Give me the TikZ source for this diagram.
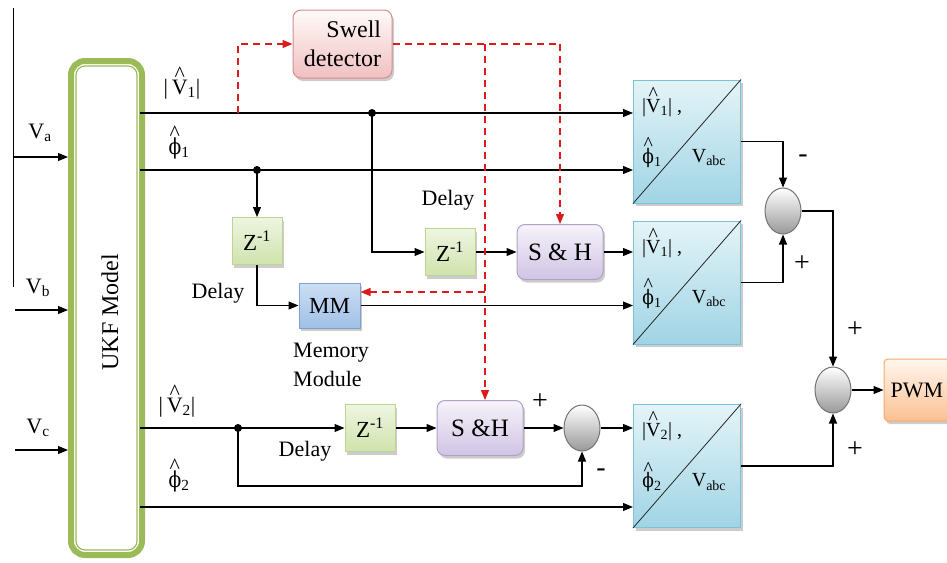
\documentclass[tikz,border=0pt]{standalone}
\usepackage{fontspec}
\setmainfont{Liberation Serif}
\newfontfamily\phifont{DejaVu Serif}
\usetikzlibrary{arrows.meta,shadows,shapes.geometric,calc}
\definecolor{ukfg}{RGB}{155,187,89}
\definecolor{dred}{RGB}{220,28,28}
\definecolor{swb}{RGB}{215,140,140}\definecolor{swt}{RGB}{255,250,250}\definecolor{swm}{RGB}{240,192,192}
\definecolor{zb}{RGB}{190,212,150}\definecolor{zt}{RGB}{238,245,225}\definecolor{zm}{RGB}{208,227,172}
\definecolor{mmb}{RGB}{125,160,210}\definecolor{mmt}{RGB}{205,222,242}\definecolor{mmm}{RGB}{160,192,232}
\definecolor{shb}{RGB}{178,160,199}\definecolor{sht}{RGB}{246,243,250}\definecolor{shm}{RGB}{208,196,228}
\definecolor{cvb}{RGB}{120,195,215}\definecolor{cvt}{RGB}{228,244,248}\definecolor{cvm}{RGB}{160,212,228}
\definecolor{pwb}{RGB}{247,170,110}\definecolor{pwt}{RGB}{255,246,238}\definecolor{pwm}{RGB}{250,192,145}
\newcommand{\hatover}[2]{\leavevmode\setbox0=\hbox{#2}\rlap{\smash{\hbox to \wd0{\hss\raisebox{#1}{\textasciicircum}\hss}}}\box0}
\newcommand{\hV}[1]{\hatover{0.6em}{V}\textsubscript{#1}}
\newcommand{\hP}[1]{\hatover{0.62em}{\phifont\scalebox{0.85}[1]{ϕ}}\textsubscript{#1}}
\begin{document}
\begin{tikzpicture}[x=1pt,y=-1pt,
  every node/.style={font=\fontsize{22}{24}\selectfont, inner sep=0pt},
  ln/.style={line width=1.1pt, black},
  arr/.style={ln, -{Triangle[length=10pt,width=8pt]}},
  rdash/.style={line width=1.4pt, color=dred, dash pattern=on 7pt off 5pt},
  rarr/.style={rdash, -{Triangle[length=10pt,width=8pt]}},
  shad/.style={drop shadow={shadow xshift=2pt,shadow yshift=-3pt,fill=black!40,opacity=0.5}},
  swell/.style={draw=swb, line width=1pt, top color=swt, bottom color=swm, rounded corners=8pt, minimum width=99, minimum height=68, shad, align=right, font=\fontsize{24}{29}\selectfont},
  zbox/.style={draw=zb, line width=1pt, top color=zt, bottom color=zm, minimum width=50, minimum height=47, shad, font=\fontsize{23}{25}\selectfont},
  mmbox/.style={draw=mmb, line width=1pt, top color=mmt, bottom color=mmm, minimum width=61, minimum height=45, shad, font=\fontsize{23}{25}\selectfont},
  shbox/.style={draw=shb, line width=1pt, top color=sht, bottom color=shm, rounded corners=8pt, minimum width=86, minimum height=55, shad, font=\fontsize{25}{27}\selectfont},
  conv/.style={draw=cvb, line width=1pt, top color=cvt, bottom color=cvm, minimum width=107, minimum height=123, shad},
  sumj/.style={ellipse, draw=black!55, line width=1pt, top color=white, bottom color=black!40, minimum width=36, minimum height=46},
  pwmbox/.style={draw=pwb, line width=1pt, top color=pwt, bottom color=pwm, rounded corners=4pt, minimum width=80, minimum height=62, shad},
  ctext/.style={font=\fontsize{20}{22}\selectfont},
  sgn/.style={font=\fontsize{28}{30}\selectfont},
  dot/.style={circle, fill=black, minimum size=8pt, inner sep=0pt}
]
\useasboundingbox (0,0) rectangle (947,562);
\clip (0,0) rectangle (947,562);

% stray vertical line
\coordinate (vl1) at (13,8); \coordinate (vl2) at (13,287);
\draw[line width=1pt] (vl1) -- (vl2);

% UKF block
\node[draw=ukfg, line width=6pt, rounded corners=14pt, minimum width=71, minimum height=494] (ukf) at (106.5,308) {};
\draw[ukfg, line width=1.2pt, rounded corners=9pt] ([shift={(8,8)}]ukf.north west) rectangle ([shift={(-8,-8)}]ukf.south east);
\node[rotate=90, font=\fontsize{24}{26}\selectfont] (ukft) at (110,312) {UKF Model};

% blocks
\node[swell] (sw) at (342.5,44) {Swell\\detector};
\node[zbox] (z1) at (257,241) {Z\textsuperscript{-1}};
\node[mmbox] (mm) at (329.5,305.5) {MM};
\node[zbox] (z2) at (450,252) {Z\textsuperscript{-1}};
\node[shbox] (sh1) at (560,252) {S \& H};
\node[zbox] (z3) at (370,428) {Z\textsuperscript{-1}};
\node[shbox] (sh2) at (480,428) {S \&H};
\node[sumj] (s2) at (582,428) {};
\node[conv] (c1) at (687,141.5) {};
\node[conv] (c2) at (687,282.5) {};
\node[conv] (c3) at (687,466) {};
\node[sumj] (s1) at (783,211) {};
\node[sumj] (s3) at (833,390) {};
\node[pwmbox] (pwm) at (924,390) {};
\node[anchor=west] (pwmt) at ([xshift=7pt]pwm.west) {PWM};

% converter contents
\foreach \c/\k in {c1/1,c2/1,c3/2}{
  \draw[line width=0.8pt, black!85] (\c.south west) -- (\c.north east);
  \node[ctext, anchor=west] at ([shift={(9,28)}]\c.north west) {|\hV{\k}| ,};
  \node[ctext] at ([shift={(19,78)}]\c.north west) {\hP{\k}};
  \node[ctext] at ([shift={(76,78)}]\c.north west) {V\textsubscript{abc}};
}

% coordinates
\coordinate (ia) at (13,157); \coordinate (ib) at (15,310); \coordinate (ic) at (15,450);
\coordinate (o1) at (140,113); \coordinate (o2) at (140,170);
\coordinate (o3) at (140,428); \coordinate (o4) at (140,507);
\coordinate (d1) at (372,113); \coordinate (d2) at (257,170); \coordinate (d3) at (238,428);
\coordinate (fb) at (238,486);
\coordinate (r0) at (238,113); \coordinate (rx) at (485,44); \coordinate (rm) at (485,292);

% inputs
\draw[arr] (ia) -- (ia -| ukf.west);
\draw[arr] (ib) -- (ib -| ukf.west);
\draw[arr] (ic) -- (ic -| ukf.west);
\node at (40,133) {V\textsubscript{a}};
\node at (38,288) {V\textsubscript{b}};
\node at (38,428) {V\textsubscript{c}};

% signal lines
\draw[arr] (o1) -- (o1 -| c1.west);
\draw[arr] (o2) -- (o2 -| c1.west);
\draw[arr] (d2) -- (z1.north);
\draw[arr] (z1.south) |- (mm.west);
\draw[arr] (mm.east) -- (mm.east -| c2.west);
\draw[arr] (d1) |- (z2.west);
\draw[arr] (z2.east) -- (sh1.west);
\draw[arr] (sh1.east) -- (sh1.east -| c2.west);
\draw[arr] (c1.east) -| (s1.north);
\draw[arr] (c2.east) -| (s1.south);
\draw[arr] (s1.east) -| (s3.north);
\draw[arr] (c3.east) -| (s3.south);
\draw[arr] (s3.east) -- (pwm.west);
\draw[arr] (o3) -- (z3.west);
\draw[arr] (z3.east) -- (sh2.west);
\draw[arr] (sh2.east) -- (s2.west);
\draw[arr] (s2.east) -- (s2.east -| c3.west);
\draw[arr] (d3) -- (fb) -| (s2.south);
\draw[arr] (o4) -- (o4 -| c3.west);

% red dashed control lines
\draw[rarr] (r0) |- (sw.west);
\draw[rdash] (sw.east) -- (sw.east -| sh1.north);
\draw[rarr] (sw.east -| sh1.north) -- (sh1.north);
\draw[rarr] (rx) -- (rx |- sh2.north);
\draw[rarr] (rm) -- (rm -| mm.east);

% junction dots
\node[dot] at (d1) {};
\node[dot] at (d2) {};
\node[dot] at (d3) {};

% signal labels
\node at (182,89) {|\,\hV{1}|};
\node at (179,148) {\hP{1}};
\node at (177,407) {|\,\hV{2}|};
\node at (179,481) {\hP{2}};
\node at (218,293) {Delay};
\node at (448,200) {Delay};
\node at (305,451) {Delay};
\node[align=left, anchor=west, font=\fontsize{22}{29}\selectfont] at (293,365) {Memory\\Module};

% signs
\node[sgn] at (803,159) {-};
\node[sgn] at (802,264) {+};
\node[sgn] at (855,330) {+};
\node[sgn] at (855,450) {+};
\node[sgn] at (540,402) {+};
\node[sgn] at (601,473) {-};
\end{tikzpicture}
\end{document}
